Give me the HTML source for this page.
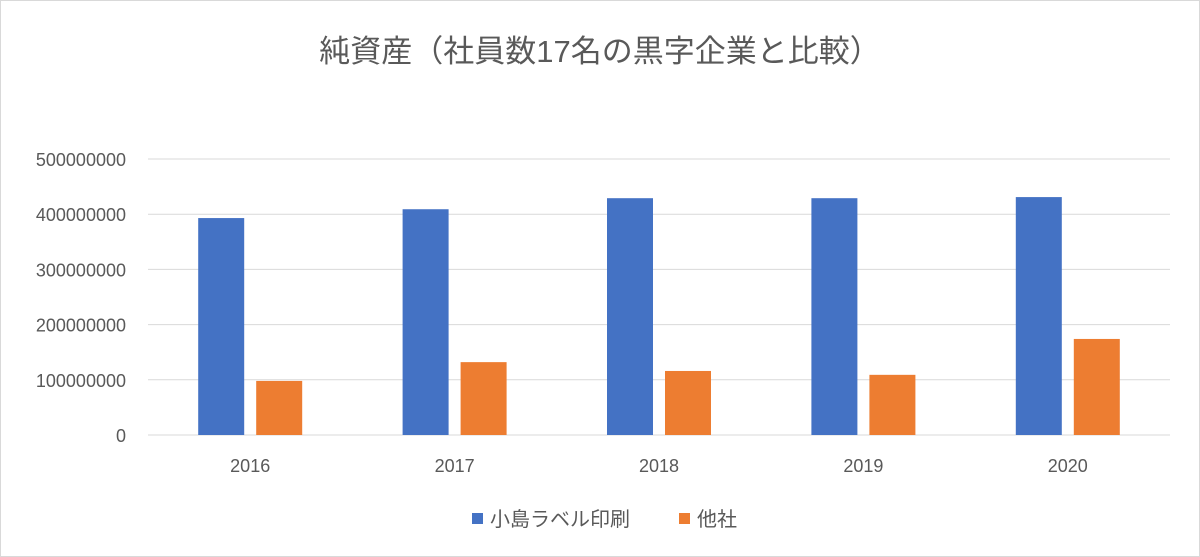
<!DOCTYPE html>
<html><head><meta charset="utf-8">
<style>
html,body{margin:0;padding:0;background:#fff;}
svg{display:block;font-family:"Liberation Sans","Noto Sans CJK JP",sans-serif;}
</style></head>
<body>
<svg id="chart" width="1200" height="557" viewBox="0 0 1200 557">
<rect x="0.5" y="0.5" width="1199" height="556" fill="#fff" stroke="#d9d9d9"/>
<text x="600" y="62" text-anchor="middle" font-size="31" fill="#595959">純資産（社員数17名の黒字企業と比較）</text>
<g id="grid"></g>
<g id="bars"></g>
<g id="xlabels"></g>
<g>
<rect x="472" y="513" width="11" height="11" fill="#4472c4"/>
<text x="490" y="526" font-size="20" fill="#595959">小島ラベル印刷</text>
<rect x="679" y="513" width="11" height="11" fill="#ed7d31"/>
<text x="697" y="526" font-size="20" fill="#595959">他社</text>
</g>
</svg>
<script>
const categories = ["2016","2017","2018","2019","2020"];
const kojima = [393000000, 409000000, 429000000, 429000000, 431000000];
const others = [98000000, 132000000, 116000000, 109000000, 174000000];
const yTicks = [0,100000000,200000000,300000000,400000000,500000000];
const yTickLabels = ["0","100000000","200000000","300000000","400000000","500000000"];

const NS="http://www.w3.org/2000/svg";
const plotL=148, plotR=1170, y0=435, yTop=159, yMax=500000000;
const yScale=v=>y0-(v/yMax)*(y0-yTop);
const band=(plotR-plotL)/categories.length;
const xCenter=i=>plotL+band*(i+0.5);
const barW=46, gap=12;
function mk(tag,attrs){const e=document.createElementNS(NS,tag);for(const k in attrs)e.setAttribute(k,attrs[k]);return e;}
const grid=document.getElementById('grid');
yTicks.forEach((t,i)=>{
  const y=yScale(t);
  const l=mk('line',{x1:plotL,x2:plotR,y1:y,y2:y,stroke:'#d9d9d9','stroke-width':1});
  
  
  grid.appendChild(l);
  const tx=mk('text',{x:126,y:y+7,'text-anchor':'end','font-size':18,fill:'#595959'});
  tx.textContent=yTickLabels[i];
  
  
  grid.appendChild(tx);
});
const bars=document.getElementById('bars'), xl=document.getElementById('xlabels');
categories.forEach((c,i)=>{
  const cx=xCenter(i);
  const b1=mk('rect',{x:cx-gap/2-barW,y:yScale(kojima[i]),width:barW,height:y0-yScale(kojima[i]),fill:'#4472c4'});
  
  
  bars.appendChild(b1);
  const b2=mk('rect',{x:cx+gap/2,y:yScale(others[i]),width:barW,height:y0-yScale(others[i]),fill:'#ed7d31'});
  
  
  bars.appendChild(b2);
  const t=mk('text',{x:cx,y:472,'text-anchor':'middle','font-size':18,fill:'#595959'});
  t.textContent=c;
  
  
  xl.appendChild(t);
});
</script>
</body></html>
